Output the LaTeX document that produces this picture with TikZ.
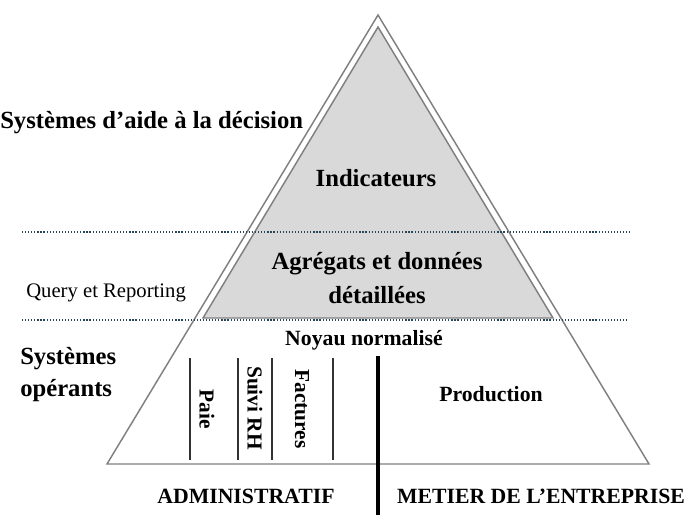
\documentclass[tikz,border=0pt]{standalone}
\usepackage{fontspec}
\setmainfont{Liberation Serif}
\definecolor{edgegray}{RGB}{128,128,128}
\definecolor{fillgray}{RGB}{217,217,217}
\definecolor{dotcol}{RGB}{40,70,90}
\definecolor{sepcol}{RGB}{50,50,50}
\tikzset{
  edge/.style={draw=edgegray, line width=1.1pt, line join=miter},
  level/.style={draw=dotcol, line width=0.9pt, dash pattern=on 0.9pt off 1.4pt},
  sep/.style={draw=sepcol, line width=1.4pt},
  bigsep/.style={draw=black, line width=2.3pt},
  big/.style={font=\fontsize{18.5}{22}\selectfont\bfseries, inner sep=0pt},
  mid/.style={font=\fontsize{16.3}{20}\selectfont\bfseries, inner sep=0pt},
  small/.style={font=\fontsize{15.5}{18}\selectfont, inner sep=0pt},
  vert/.style={font=\fontsize{16}{19}\selectfont\bfseries, inner sep=0pt, rotate=-90}
}
\begin{document}
\begin{tikzpicture}[x=0.75pt, y=-0.75pt]
\useasboundingbox (0,0) rectangle (691,525);
% outer triangle
\coordinate (oa) at (378,15);
\coordinate (ol) at (107,464);
\coordinate (or) at (649,464);
\draw[edge] (oa) -- (ol) -- (or) -- cycle;
% inner filled triangle
\coordinate (ia) at (378,27);
\coordinate (il) at (203,318);
\coordinate (ir) at (553,318);
\filldraw[edge, fill=fillgray] (ia) -- (il) -- (ir) -- cycle;
% dotted level lines
\coordinate (d1l) at (22,232);
\coordinate (d1r) at (632,232);
\coordinate (d2l) at (22,320);
\coordinate (d2r) at (628,320);
\draw[level] (d1l) -- (d1r);
\draw[level] (d2l) -- (d2r);
% separators
\coordinate (s1t) at (190,358); \coordinate (s1b) at (190,460);
\coordinate (s2t) at (238,358); \coordinate (s2b) at (238,460);
\coordinate (s3t) at (272,358); \coordinate (s3b) at (272,460);
\coordinate (s4t) at (333,358); \coordinate (s4b) at (333,460);
\draw[sep] (s1t) -- (s1b);
\draw[sep] (s2t) -- (s2b);
\draw[sep] (s3t) -- (s3b);
\draw[sep] (s4t) -- (s4b);
\coordinate (bt) at (378,356); \coordinate (bb) at (378,515);
\draw[bigsep] (bt) -- (bb);
% texts
\node[big, anchor=base west] (sad) at (0,128) {Systèmes d’aide à la décision};
\node[small, anchor=base west] (qr) at (26,297) {Query et Reporting};
\node[big, anchor=base west] (so1) at (20,364) {Systèmes};
\node[big, anchor=base west] (so2) at (20,396) {opérants};
\node[big, anchor=base] (ind) at (376,186) {Indicateurs};
\node[big, anchor=base] (agr) at (377,269) {Agrégats et données};
\node[big, anchor=base] (det) at (377,303) {détaillées};
\node[mid, anchor=base] (noy) at (364,345) {Noyau normalisé};
\node[mid, anchor=base] (prod) at (491,401) {Production};
\node[mid, anchor=base] (adm) at (246,503) {ADMINISTRATIF};
\node[mid, anchor=base] (met) at (541,503) {METIER DE L’ENTREPRISE};
\node[vert] (paie) at (207,409) {Paie};
\node[vert] (srh) at (255,408) {Suivi RH};
\node[vert] (fac) at (302,409) {Factures};
\end{tikzpicture}
\end{document}
